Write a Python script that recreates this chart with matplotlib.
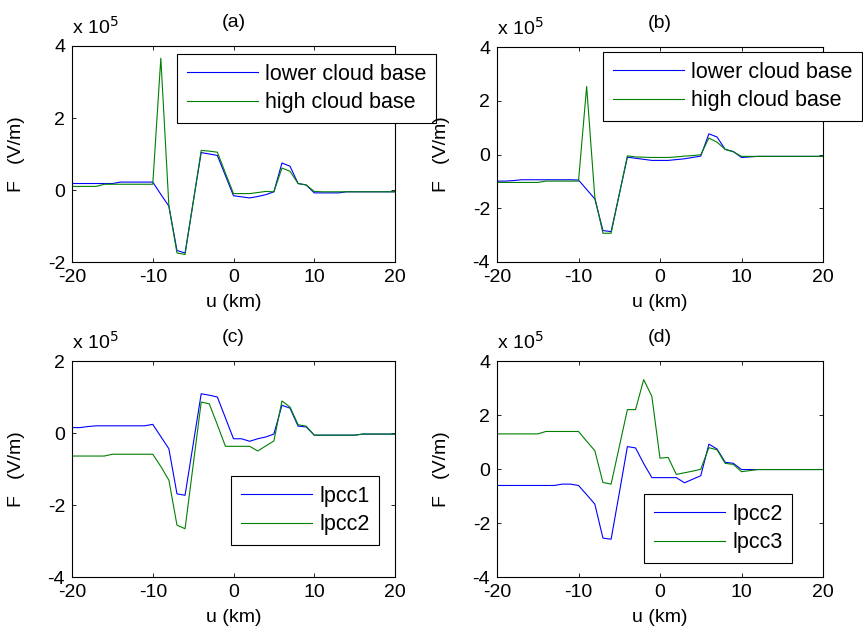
import numpy as np
import matplotlib
matplotlib.use("Agg")
import matplotlib.pyplot as plt

plt.rcParams['font.family'] = ['Liberation Sans', 'DejaVu Sans']
plt.rcParams['font.size'] = 14
plt.rcParams['axes.unicode_minus'] = False

u = list(range(-20, 21))

# panel (a)
a_lower = [0.18, 0.18, 0.18, 0.18, 0.18, 0.18, 0.22, 0.22, 0.22, 0.22, 0.22,
           -0.12, -0.45, -1.68, -1.75, -0.35, 1.04, 1.00, 0.96, 0.40, -0.16,
           -0.19, -0.22, -0.18, -0.13, -0.05, 0.75, 0.66, 0.18, 0.14, -0.08,
           -0.08, -0.08, -0.08, -0.05, -0.05, -0.05, -0.05, -0.05, -0.05, -0.05]
a_high = [0.10, 0.10, 0.10, 0.10, 0.16, 0.16, 0.16, 0.16, 0.16, 0.16, 0.16,
          3.66, -0.45, -1.75, -1.79, -0.35, 1.10, 1.08, 1.05, 0.47, -0.10,
          -0.10, -0.10, -0.07, -0.04, -0.05, 0.61, 0.52, 0.18, 0.14, -0.04,
          -0.05, -0.05, -0.05, -0.05, -0.05, -0.05, -0.05, -0.05, -0.05, -0.05]

# panel (b)
b_lower = [-0.99, -0.99, -0.97, -0.94, -0.94, -0.94, -0.94, -0.94, -0.94, -0.94, -0.95,
           -1.30, -1.65, -2.83, -2.87, -1.48, -0.10, -0.14, -0.18, -0.22, -0.22,
           -0.22, -0.19, -0.16, -0.11, -0.06, 0.77, 0.65, 0.19, 0.11, -0.11,
           -0.09, -0.07, -0.07, -0.07, -0.07, -0.07, -0.07, -0.07, -0.07, -0.07]
b_high = [-1.04, -1.04, -1.04, -1.04, -1.04, -1.04, -0.99, -0.99, -0.99, -0.99, -0.99,
          2.53, -1.59, -2.93, -2.93, -1.49, -0.05, -0.09, -0.10, -0.11, -0.11,
          -0.11, -0.09, -0.06, -0.04, -0.01, 0.61, 0.46, 0.19, 0.10, -0.07,
          -0.07, -0.07, -0.07, -0.07, -0.07, -0.07, -0.07, -0.07, -0.07, -0.07]

# panel (c)
c_lpcc1 = [0.15, 0.15, 0.18, 0.20, 0.20, 0.20, 0.20, 0.20, 0.20, 0.20, 0.24,
           -0.10, -0.44, -1.69, -1.73, -0.32, 1.09, 1.05, 1.00, 0.42, -0.16,
           -0.16, -0.23, -0.16, -0.11, -0.03, 0.77, 0.69, 0.19, 0.17, -0.06,
           -0.06, -0.06, -0.06, -0.06, -0.06, -0.03, -0.03, -0.03, -0.03, -0.03]
c_lpcc2 = [-0.64, -0.64, -0.64, -0.64, -0.64, -0.59, -0.59, -0.59, -0.59, -0.59, -0.59,
           -0.93, -1.31, -2.56, -2.66, -0.90, 0.86, 0.81, 0.23, -0.37, -0.37,
           -0.37, -0.37, -0.50, -0.36, -0.22, 0.89, 0.72, 0.23, 0.19, -0.06,
           -0.06, -0.06, -0.06, -0.06, -0.06, -0.03, -0.03, -0.03, -0.03, -0.03]

# panel (d)
d_lpcc2 = [-0.61, -0.61, -0.61, -0.61, -0.61, -0.61, -0.61, -0.61, -0.56, -0.56, -0.61,
           -0.95, -1.30, -2.56, -2.60, -0.90, 0.83, 0.78, 0.20, -0.32, -0.32,
           -0.32, -0.32, -0.51, -0.38, -0.25, 0.92, 0.74, 0.25, 0.21, -0.02,
           -0.02, -0.02, -0.02, -0.02, -0.02, -0.02, -0.02, -0.02, -0.02, -0.02]
d_lpcc3 = [1.30, 1.30, 1.30, 1.30, 1.30, 1.30, 1.39, 1.39, 1.39, 1.39, 1.39,
           1.03, 0.68, -0.50, -0.56, 0.82, 2.20, 2.20, 3.31, 2.69, 0.40,
           0.43, -0.20, -0.14, -0.08, -0.01, 0.79, 0.71, 0.21, 0.17, -0.10,
           -0.06, -0.02, -0.02, -0.02, -0.02, -0.02, -0.02, -0.02, -0.02, -0.02]

panels = [
    ("(a)", a_lower, a_high, ["lower cloud base", "high cloud base"], (-2, 4), [-2, 0, 2, 4]),
    ("(b)", b_lower, b_high, ["lower cloud base", "high cloud base"], (-4, 4), [-4, -2, 0, 2, 4]),
    ("(c)", c_lpcc1, c_lpcc2, ["lpcc1", "lpcc2"], (-4, 2), [-4, -2, 0, 2]),
    ("(d)", d_lpcc2, d_lpcc3, ["lpcc2", "lpcc3"], (-4, 4), [-4, -2, 0, 2, 4]),
]

W, H = 863, 630
boxes = [(72, 46, 395, 262), (497, 47, 823, 262), (72, 361, 395, 577), (497, 361, 823, 577)]
legend_boxes = [(177, 54), (603, 52), (231, 476), (644, 494)]

fig = plt.figure(figsize=(W / 100, H / 100), dpi=100)

for i, (title, s1, s2, names, ylim, yt) in enumerate(panels):
    x0, y0, x1, y1 = boxes[i]
    ax = fig.add_axes([x0 / W, 1 - y1 / H, (x1 - x0) / W, (y1 - y0) / H])
    ax.plot(u, s1, color=(0, 0, 1), lw=0.8, label=names[0])
    ax.plot(u, s2, color=(0, 0.5, 0), lw=0.8, label=names[1])
    ax.set_xlim(-20, 20)
    ax.set_ylim(*ylim)
    ax.set_xticks([-20, -10, 0, 10, 20])
    ax.set_yticks(yt)
    ax.tick_params(direction='in', top=True, right=True, length=3, width=0.6, labelsize=14)
    ax.tick_params(axis='x', pad=5)
    ax.tick_params(axis='y', pad=5)
    for sp in ax.spines.values():
        sp.set_linewidth(0.8)
    ax.set_xlabel("u (km)", fontsize=14, labelpad=6)
    ax.set_ylabel("F   (V/m)", fontsize=14, labelpad=16)
    ax.set_title(title, fontsize=14, pad=14)
    ax.text(0.0, 1.04, "x 10$^5$", transform=ax.transAxes, fontsize=14, ha='left', va='bottom')
    lx, ly = legend_boxes[i]
    leg = ax.legend(loc='upper left', bbox_to_anchor=((lx - x0) / (x1 - x0), 1 - (ly - y0) / (y1 - y0)),
                    fancybox=False, edgecolor='black', framealpha=1, fontsize=15.5,
                    borderaxespad=0, handlelength=3.3, handletextpad=0.35,
                    labelspacing=0.35, borderpad=0.45)
    leg.get_frame().set_linewidth(0.8)

fig.savefig("out.png", dpi=100)
